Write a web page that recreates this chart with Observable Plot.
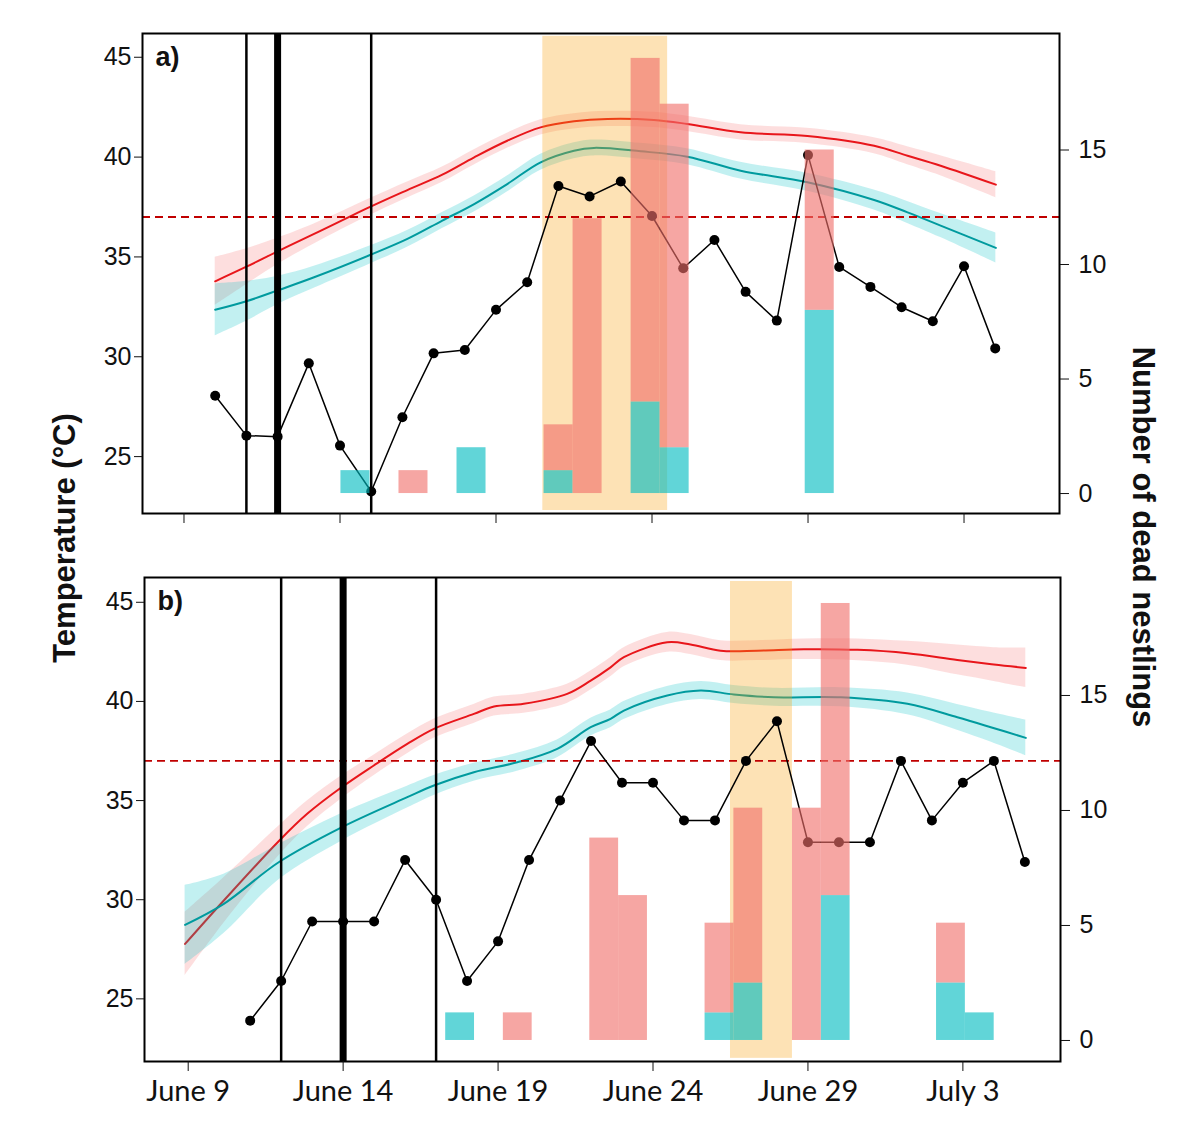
<!DOCTYPE html>
<html><head><meta charset="utf-8">
<script src="https://cdn.jsdelivr.net/npm/d3@7"></script>
<script src="https://cdn.jsdelivr.net/npm/@observablehq/plot@0.6"></script>
<style>
body{margin:0;background:#fff;}
#fig{position:relative;width:1200px;height:1134px;overflow:hidden;font-family:"Liberation Sans",Arial,sans-serif;background:#fff;}
.panel{position:absolute;left:0;}
.ytitle{position:absolute;font-weight:bold;font-size:31px;white-space:nowrap;color:#111;line-height:normal;}
</style></head><body><div id="fig"></div>
<script>
// ---------- shared axis data ----------
const tickDays = [0, 5, 10, 15, 20, 25];             // days after June 9
const tickLabels = ["June 9", "June 14", "June 19", "June 24", "June 29", "July 3"];
const tempTicks = [25, 30, 35, 40, 45];
const countTicks = [0, 5, 10, 15];
const threshold = 37;

// ---------- panel a ----------
const aDays = [1,2,3,4,5,6,7,8,9,10,11,12,13,14,15,16,17,18,19,20,21,22,23,24,25,26];
const aDaily = [28.05,26.05,26.0,29.67,25.55,23.25,26.97,30.17,30.34,32.35,33.73,38.55,38.03,38.78,37.05,34.43,35.85,33.25,31.81,40.1,34.5,33.5,32.48,31.78,34.53,30.42];
const aRedDay = [1.0,2.0,3.05,4.17,6.0,7.16,8.28,9.3,10.36,11.43,12.5,13.57,15.06,16.13,17.84,19.98,22.12,23.19,24.25,26.02];
const aRedT   = [33.78,34.51,35.32,36.15,37.53,38.35,39.12,39.99,40.82,41.49,41.79,41.91,41.86,41.66,41.24,41.06,40.57,40.07,39.57,38.62];
const aRedHW  = [1.2,0.9,0.65,0.5,0.42,0.4,0.38,0.38,0.38,0.38,0.38,0.38,0.38,0.38,0.38,0.38,0.4,0.45,0.5,0.65];
const aTealDay = [1.0,2.0,3.05,4.17,6.0,7.16,8.28,9.3,10.36,11.43,12.5,13.14,14.64,16.13,17.84,19.98,22.12,23.19,24.25,26.02];
const aTealT   = [32.35,32.78,33.35,33.98,35.12,35.9,36.82,37.65,38.65,39.74,40.32,40.46,40.29,40.02,39.32,38.74,37.85,37.23,36.57,35.45];
const aTealHW  = [1.3,1.0,0.7,0.55,0.45,0.42,0.4,0.4,0.4,0.4,0.4,0.4,0.4,0.4,0.42,0.45,0.5,0.55,0.6,0.75];
const aThin = [2, 6];
const aThick = [3];
const aBand = [11.5, 15.5];
const aBarStart = [5.03,6.89,8.75,11.54,12.47,14.33,15.26,19.91];
const aBlue = [1,0,2,1,0,4,2,8];
const aRed  = [0,1,0,2,12,15,15,7];

// ---------- panel b ----------
const bDays = [2,3,4,5,6,7,8,9,10,11,12,13,14,15,16,17,18,19,20,21,22,23,24,25,26,27];
const bDaily = [23.9,25.9,28.9,28.9,28.9,32.0,30.0,25.9,27.9,32.0,35.0,38.0,35.9,35.9,34.0,34.0,37.0,39.0,32.9,32.9,32.9,37.0,34.0,35.9,37.0,31.9];
const bRedDay = [-0.1,1.15,2.92,3.84,4.95,5.99,7.07,7.93,9.22,9.87,10.83,12.23,12.99,13.63,14.06,15.46,16.21,17.18,18.37,19.87,21.6,23.21,24.82,26.0,27.03];
const bRedT   = [27.77,29.96,32.95,34.33,35.67,36.77,37.86,38.62,39.37,39.74,39.88,40.38,41.05,41.72,42.23,42.98,42.87,42.56,42.56,42.63,42.6,42.43,42.09,41.86,41.69];
const bRedHW  = [1.6,1.15,0.75,0.65,0.58,0.52,0.5,0.48,0.48,0.48,0.48,0.48,0.48,0.48,0.48,0.5,0.5,0.5,0.5,0.52,0.55,0.6,0.75,0.85,1.0];
const bTealDay = [-0.1,1.15,2.92,4.95,7.07,7.93,9.22,10.62,11.91,12.99,13.63,14.06,15.46,16.54,17.61,18.9,21.06,23.21,24.82,25.9,27.03];
const bTealT   = [28.73,29.79,31.89,33.65,35.17,35.76,36.43,36.93,37.61,38.7,39.12,39.54,40.3,40.55,40.35,40.21,40.21,39.88,39.2,38.7,38.16];
const bTealHW  = [2.0,1.5,0.9,0.7,0.55,0.5,0.45,0.45,0.45,0.45,0.45,0.45,0.45,0.45,0.45,0.45,0.48,0.55,0.65,0.75,0.9];
const bThin = [3, 8];
const bThick = [5];
const bBand = [17.5, 19.5];
const bBarStart = [8.31,10.17,12.96,13.89,16.68,17.61,19.50,20.43,24.15,25.08];
const bBlue = [1.2,0,0,0,1.2,2.5,0,6.3,2.5,1.2];
const bRed  = [0,1.2,8.8,6.3,3.9,7.6,10.1,12.7,2.6,0];

const BINW = 0.93;

function makePanel(p) {
  const toT = c => p.t0 + p.k * c;
  const blueBars = [], redBars = [];
  p.barStart.forEach((s, i) => {
    const b = p.blue[i], r = p.red[i];
    if (b > 0) blueBars.push({x1: s, x2: s + BINW, y1: toT(0), y2: toT(b)});
    if (r > 0) redBars.push({x1: s, x2: s + BINW, y1: toT(b), y2: toT(b + r)});
  });
  const redS = p.redDay.map((d, i) => ({d, v: p.redT[i], lo: p.redT[i] - p.redHW[i], hi: p.redT[i] + p.redHW[i]}));
  const tealS = p.tealDay.map((d, i) => ({d, v: p.tealT[i], lo: p.tealT[i] - p.tealHW[i], hi: p.tealT[i] + p.tealHW[i]}));
  const daily = p.days.map((d, i) => ({d, v: p.daily[i]}));
  const curve = "catmull-rom";
  return Plot.plot({
    width: 1200, height: p.height,
    marginTop: p.mt, marginBottom: p.mb, marginLeft: p.ml, marginRight: p.mr,
    x: {domain: p.xDomain},
    y: {domain: p.yDomain},
    style: {fontFamily: "Liberation Sans, Arial, sans-serif", background: "transparent", color: "#111", overflow: "visible"},
    marks: [
      Plot.areaY(redS, {x: "d", y1: "lo", y2: "hi", fill: "#f23a3a", fillOpacity: 0.17, curve}),
      Plot.line(redS, {x: "d", y: "v", stroke: "#e8161b", strokeWidth: 2, curve}),
      Plot.areaY(tealS, {x: "d", y1: "lo", y2: "hi", fill: "#00bfc4", fillOpacity: 0.24, curve}),
      Plot.line(tealS, {x: "d", y: "v", stroke: "#009a9e", strokeWidth: 2, curve}),
      Plot.rect([p.band], {x1: d => d[0], x2: d => d[1], y1: p.bandLo, y2: p.bandHi, fill: "#f89e0b", fillOpacity: 0.3}),
      Plot.ruleY([threshold], {stroke: "#c00000", strokeWidth: 1.8, strokeDasharray: "8,5"}),
      Plot.ruleX(p.thin, {stroke: "black", strokeWidth: 2.5}),
      Plot.ruleX(p.thick, {stroke: "black", strokeWidth: 7}),
      Plot.line(daily, {x: "d", y: "v", stroke: "black", strokeWidth: 1.5}),
      Plot.dot(daily, {x: "d", y: "v", r: 5, fill: "black", stroke: "none"}),
      Plot.rect(blueBars, {x1: "x1", x2: "x2", y1: "y1", y2: "y2", fill: "#00bbc0", fillOpacity: 0.62}),
      Plot.rect(redBars, {x1: "x1", x2: "x2", y1: "y1", y2: "y2", fill: "#f0706a", fillOpacity: 0.62}),
      Plot.frame({stroke: "black", strokeWidth: 2}),
      Plot.axisY({ticks: tempTicks, tickSize: 8, tickPadding: 3, fontSize: 25, tickFormat: d => String(d), label: null}),
      Plot.axisY({anchor: "right", ticks: countTicks.map(toT), tickSize: 9, tickPadding: 10, fontSize: 25,
                  tickFormat: t => String(Math.round((t - p.t0) / p.k)), label: null}),
      Plot.axisX({ticks: tickDays, tickSize: 10, tickPadding: 9, fontSize: 29, fontFamily: "Lato, sans-serif",
                  tickFormat: d => p.showLabels ? tickLabels[tickDays.indexOf(d)] : "", label: null}),
      Plot.text([p.label], {frameAnchor: "top-left", dx: 13, dy: 13, text: d => d, fontWeight: "bold", fontSize: 27,
                            textAnchor: "start", lineAnchor: "top", fill: "#111"})
    ]
  });
}

const fig = document.getElementById("fig");

const pa = makePanel({
  days: aDays, daily: aDaily,
  redDay: aRedDay, redT: aRedT, redHW: aRedHW,
  tealDay: aTealDay, tealT: aTealT, tealHW: aTealHW,
  thin: aThin, thick: aThick, band: aBand, bandLo: 22.3, bandHi: 46.05,
  barStart: aBarStart, blue: aBlue, red: aRed,
  t0: 23.15, k: 1.147,
  xDomain: [-1.33, 28.06], yDomain: [22.15, 46.19],
  height: 533, mt: 33, mb: 20, ml: 142, mr: 141,
  showLabels: false, label: "a)"
});
pa.classList.add("panel"); pa.style.top = "0px";
fig.appendChild(pa);

const pb = makePanel({
  days: bDays, daily: bDaily,
  redDay: bRedDay, redT: bRedT, redHW: bRedHW,
  tealDay: bTealDay, tealT: bTealT, tealHW: bTealHW,
  thin: bThin, thick: bThick, band: bBand, bandLo: 22.0, bandHi: 46.05,
  barStart: bBarStart, blue: bBlue, red: bRed,
  t0: 22.9, k: 1.16,
  xDomain: [-1.41, 28.15], yDomain: [21.84, 46.25],
  height: 590, mt: 33, mb: 73, ml: 144, mr: 140,
  showLabels: true, label: "b)"
});
pb.classList.add("panel"); pb.style.top = "544px";
fig.appendChild(pb);

const lt = document.createElement("div");
lt.className = "ytitle";
lt.textContent = "Temperature (°C)";
lt.style.left = "65px"; lt.style.top = "538px";
lt.style.transform = "translate(-50%,-50%) rotate(-90deg)";
fig.appendChild(lt);

const rt = document.createElement("div");
rt.className = "ytitle";
rt.textContent = "Number of dead nestlings";
rt.style.left = "1143px"; rt.style.top = "537px";
rt.style.transform = "translate(-50%,-50%) rotate(90deg)";
fig.appendChild(rt);
</script></body></html>
